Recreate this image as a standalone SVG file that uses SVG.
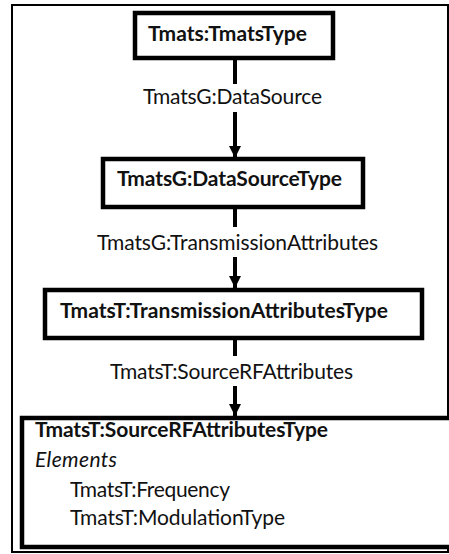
<svg xmlns="http://www.w3.org/2000/svg" width="449" height="554" viewBox="0 0 449 554">
<style>
.box{fill:#fff;stroke:#000;stroke-width:4.5}
.frame{fill:none;stroke:#000;stroke-width:2}
.t{font-family:Lato,"Liberation Sans",sans-serif;font-size:21px;fill:#111}
.b{font-weight:bold}
.i{font-style:italic}
.c{fill:none;stroke:#000;stroke-width:4}
</style>
<defs>
<marker id="arr" markerUnits="userSpaceOnUse" markerWidth="14" markerHeight="14" refX="12" refY="6" orient="auto">
<path d="M0,0 L12,6 L0,12 Z" fill="#000"/>
</marker>
</defs>
<rect class="frame" x="12" y="5" width="436" height="547"/>
<g id="connectors">
<path class="c" d="M235,60 V84"/>
<path class="c" d="M235,112 V158" marker-end="url(#arr)"/>
<text class="t" x="143" y="104" textLength="179">TmatsG:DataSource</text>
<path class="c" d="M235,209 V227"/>
<path class="c" d="M235,257 V288" marker-end="url(#arr)"/>
<text class="t" x="97" y="250" textLength="281">TmatsG:TransmissionAttributes</text>
<path class="c" d="M235,340 V356"/>
<path class="c" d="M235,386 V416" marker-end="url(#arr)"/>
<text class="t" x="110" y="379" textLength="243">TmatsT:SourceRFAttributes</text>
</g>
<g id="node1">
<rect class="box" x="135" y="13" width="198" height="45"/>
<text class="t b" x="148" y="41" textLength="159">Tmats:TmatsType</text>
</g>
<g id="node2">
<rect class="box" x="103" y="159" width="260" height="48"/>
<text class="t b" x="117" y="186" textLength="225">TmatsG:DataSourceType</text>
</g>
<g id="node3">
<rect class="box" x="45" y="290" width="377" height="48"/>
<text class="t b" x="60" y="318" textLength="328">TmatsT:TransmissionAttributesType</text>
</g>
<g id="node4">
<rect class="box" x="22" y="418" width="430" height="129"/>
<text class="t b" x="35" y="437" textLength="293">TmatsT:SourceRFAttributesType</text>
<text class="t i" x="35" y="467" textLength="82">Elements</text>
<text class="t" x="70" y="497" textLength="160">TmatsT:Frequency</text>
<text class="t" x="70" y="525" textLength="215">TmatsT:ModulationType</text>
</g>
</svg>
